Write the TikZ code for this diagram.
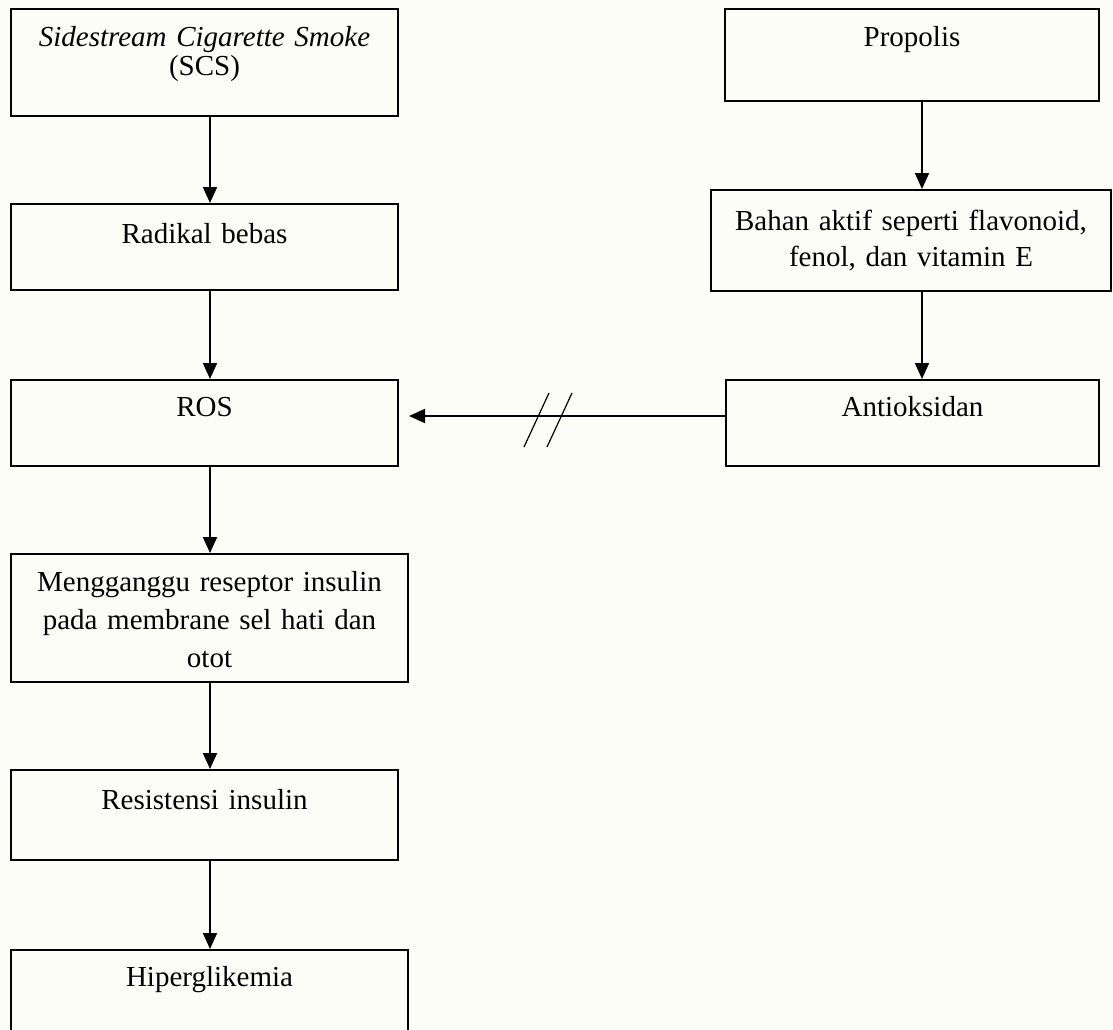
\documentclass[tikz,border=0pt]{standalone}
\usepackage{fontspec}
\setmainfont{Liberation Serif}
\usetikzlibrary{arrows.meta}
\definecolor{bgcream}{RGB}{253,253,248}

\begin{document}
\begin{tikzpicture}[x=1pt,y=-1pt]
    \tikzset{box/.style={draw,line width=2pt,inner sep=0pt,anchor=north west,
        align=center,font=\fontsize{29}{36}\selectfont},
      arr/.style={line width=2pt,-{Triangle[length=16pt,width=14pt]}}}
    \fill[bgcream] (0,0) rectangle (1113,1030);
    \useasboundingbox (0,0) rectangle (1113,1030);
    % left column
    \node[box,text width=387pt,text height=38pt,text depth=69pt,
      font=\fontsize{29}{29}\selectfont] (scs) at (10,8)
      {\textit{Sidestream Cigarette Smoke}\\(SCS)};
    \node[box,text width=387pt,text height=39pt,text depth=47pt] (rad) at (10,203) {Radikal bebas};
    \node[box,text width=387pt,text height=36pt,text depth=50pt] (ros) at (10,379) {ROS};
    \node[box,text width=397pt,text height=37pt,text depth=91pt,
      font=\fontsize{29}{38}\selectfont] (meng) at (10,553)
      {Mengganggu reseptor insulin\\pada membrane sel hati dan\\otot};
    \node[box,text width=387pt,text height=39pt,text depth=51pt] (res) at (10,769) {Resistensi insulin};
    \node[box,text width=397pt,text height=36pt,text depth=70pt] (hip) at (10,949) {Hiperglikemia};
    % right column
    \node[box,text width=374pt,text height=38pt,text depth=54pt] (prop) at (724,8) {Propolis};
    \node[box,text width=400pt,text height=40pt,text depth=61pt] (bahan) at (710,189)
      {Bahan aktif seperti flavonoid,\\fenol, dan vitamin E};
    \node[box,text width=373pt,text height=36pt,text depth=50pt] (anti) at (725,379) {Antioksidan};
    % arrows
    \coordinate (lx) at (210,0);
    \coordinate (rx) at (922,0);
    \foreach \a/\b in {scs/rad,rad/ros,ros/meng,meng/res,res/hip}
      {\draw[arr] (\a.south -| lx) -- (\b.north -| lx);}
    \foreach \a/\b in {prop/bahan,bahan/anti}
      {\draw[arr] (\a.south -| rx) -- (\b.north -| rx);}
    \draw[arr,shorten >=10pt] ([yshift=7pt]anti.west) -- ([yshift=7pt]ros.east);
    \draw[line width=1.2pt] (524,447) -- (549,393) (547,447) -- (572,393);
  \end{tikzpicture}
\end{document}
